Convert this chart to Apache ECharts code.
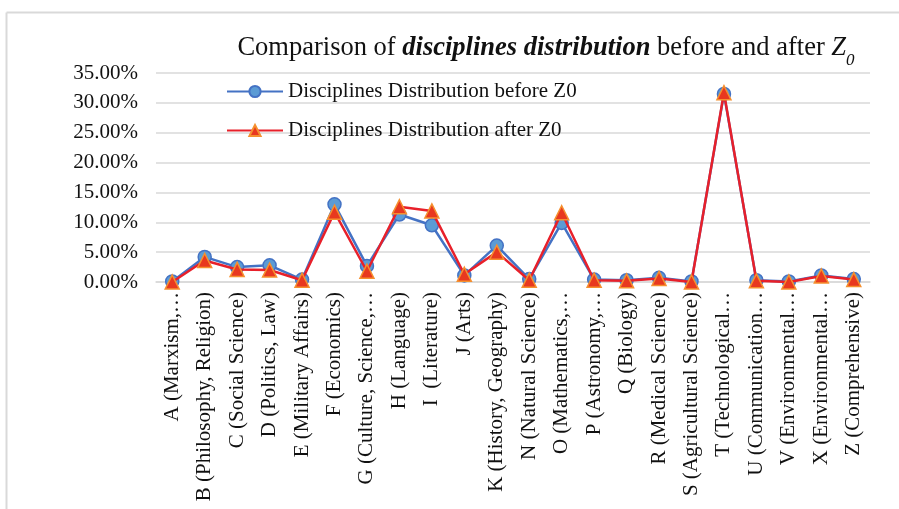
<!DOCTYPE html>
<html>
<head>
<meta charset="utf-8">
<script src="https://cdn.jsdelivr.net/npm/echarts@6/dist/echarts.min.js"></script>
<style>
  html, body { margin: 0; padding: 0; background: #fff; }
  #chart { width: 899px; height: 509px; }
</style>
</head>
<body>
<div id="chart"></div>
<script>
// Discipline categories (label text as shown on the axis)
const categories = [
  'A (Marxism,…', 'B (Philosophy, Religion)', 'C (Social Science)', 'D (Politics, Law)',
  'E (Military Affairs)', 'F (Economics)', 'G (Culture, Science,…', 'H (Language)',
  'I  (Literature)', 'J (Arts)', 'K (History, Geography)', 'N (Natural Science)',
  'O (Mathematics,…', 'P (Astronomy,…', 'Q (Biology)', 'R (Medical Science)',
  'S (Agricultural Science)', 'T (Technological…', 'U (Communication…', 'V (Environmental…',
  'X (Environmental…', 'Z (Comprehensive)'
];

// Share of each discipline, in percent
const beforeZ0 = [0.1, 4.2, 2.5, 2.8, 0.4, 13.0, 2.7, 11.3, 9.5, 1.1, 6.1, 0.5, 9.9, 0.4, 0.3, 0.7, 0.1, 31.5, 0.3, 0.1, 1.1, 0.5];
const afterZ0  = [0.0, 3.6, 2.1, 2.0, 0.3, 11.7, 1.8, 12.6, 11.9, 1.3, 5.0, 0.3, 11.6, 0.3, 0.2, 0.6, 0.0, 31.7, 0.2, 0.0, 1.0, 0.4];

const seriesNames = ['Disciplines Distribution before Z0', 'Disciplines Distribution after Z0'];

const serif = '"Liberation Serif", "Times New Roman", serif';
const gridGray = '#d9d9d9';
const ink = '#111';

const chart = echarts.init(document.getElementById('chart'));
chart.setOption({
  backgroundColor: '#fff',
  animation: false,
  title: {
    text: '{n|Comparison of }{b|disciplines distribution}{n| before and after }{z|Z}{s|0}',
    left: 541,
    textAlign: 'center',
    top: 30,
    textStyle: {
      fontWeight: 'normal',
      rich: {
        n: { fontFamily: serif, fontSize: 26.5, fontWeight: 'normal', color: ink },
        b: { fontFamily: serif, fontSize: 26.5, fontWeight: 'bold', fontStyle: 'italic', color: ink },
        z: { fontFamily: serif, fontSize: 26.5, fontWeight: 'normal', fontStyle: 'italic', color: ink },
        s: { fontFamily: serif, fontSize: 17, fontWeight: 'normal', fontStyle: 'italic', color: ink, verticalAlign: 'bottom', padding: [0, 0, -7, 0] }
      }
    }
  },
  graphic: [
    { type: 'line', shape: { x1: 6.5, y1: 12.5, x2: 899, y2: 12.5 }, style: { stroke: gridGray, lineWidth: 2 } },
    { type: 'line', shape: { x1: 6.5, y1: 12.5, x2: 6.5, y2: 509 }, style: { stroke: gridGray, lineWidth: 2 } }
  ],
  legend: {
    orient: 'vertical',
    left: 221,
    top: 76,
    itemGap: 18,
    itemWidth: 56,
    itemHeight: 14,
    textStyle: { fontFamily: serif, fontSize: 21, color: ink },
    data: seriesNames
  },
  grid: { left: 156, right: 29, top: 73, bottom: 227, containLabel: false },
  xAxis: {
    type: 'category',
    data: categories,
    boundaryGap: true,
    axisLine: { lineStyle: { color: gridGray, width: 1.5 } },
    axisTick: { show: false },
    axisLabel: {
      interval: 0,
      rotate: 90,
      margin: 10,
      fontFamily: serif,
      fontSize: 21,
      color: ink
    }
  },
  yAxis: {
    type: 'value',
    min: 0,
    max: 35,
    interval: 5,
    axisLine: { show: false },
    axisTick: { show: false },
    splitLine: { lineStyle: { color: gridGray, width: 1.5 } },
    axisLabel: {
      margin: 18,
      fontFamily: serif,
      fontSize: 21,
      color: ink,
      formatter: v => v.toFixed(2) + '%'
    }
  },
  series: [
    {
      name: seriesNames[0],
      type: 'line',
      data: beforeZ0,
      symbol: 'circle',
      symbolSize: 13,
      lineStyle: { color: '#4472C4', width: 2.5 },
      itemStyle: { color: '#5B9BD5', borderColor: '#4472C4', borderWidth: 1.5 },
      z: 2
    },
    {
      name: seriesNames[1],
      type: 'line',
      data: afterZ0,
      symbol: 'triangle',
      symbolSize: 14,
      lineStyle: { color: '#E8202A', width: 2.5 },
      itemStyle: { color: '#E8381F', borderColor: '#F5902F', borderWidth: 1.5 },
      z: 3
    }
  ]
});
</script>
</body>
</html>
